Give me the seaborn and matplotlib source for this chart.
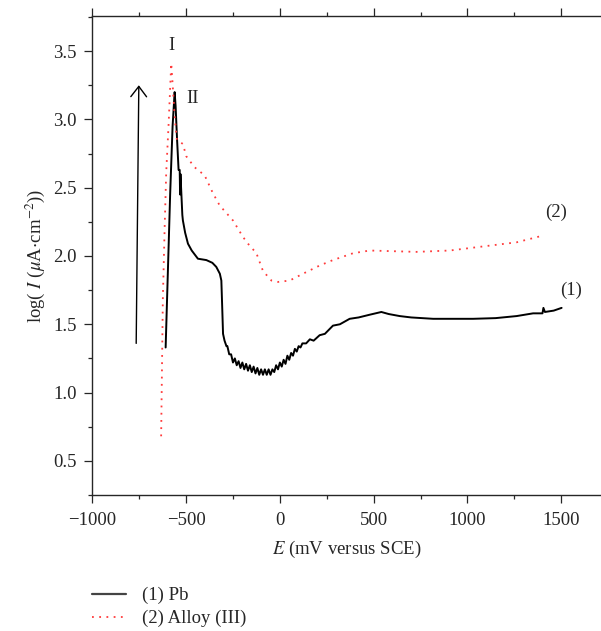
import matplotlib
matplotlib.use("Agg")
import matplotlib.pyplot as plt
import seaborn as sns
import pandas as pd
from matplotlib.ticker import MultipleLocator
from matplotlib.lines import Line2D

# ---- data ----
pb_E = [-609, -585, -572, -561, -556, -548, -540, -534, -532, -530, -520, -517, -505,
        -490, -470, -437, -392, -360, -339, -320, -312, -308, -303, -295, -285,
        -280, -270, -260, -250, -240, -230, -220, -210, -200, -190, -180, -170, -160,
        -150, -140, -130, -120, -110, -100, -90, -80, -70, -60, -50, -40, -30, -20,
        -10, 0, 10, 20, 30, 40, 50, 60, 70, 80, 90, 100, 110, 120, 140, 160, 180,
        212, 240, 283, 320, 372, 420, 479, 541, 580, 639, 700, 817, 900, 1030,
        1150, 1262, 1350, 1400, 1405, 1413, 1460, 1502]
pb_logI = [1.33, 2.45, 2.95, 3.20, 3.10, 2.85, 2.63, 2.63, 2.45, 2.60, 2.30, 2.26, 2.17,
           2.09, 2.04, 1.98, 1.97, 1.95, 1.92, 1.87, 1.82, 1.65, 1.43, 1.38, 1.34,
           1.34, 1.28, 1.28, 1.22, 1.25, 1.20, 1.23, 1.18, 1.22, 1.17, 1.21, 1.16, 1.20,
           1.15, 1.19, 1.14, 1.18, 1.13, 1.17, 1.13, 1.17, 1.13, 1.17, 1.13, 1.17, 1.15, 1.20,
           1.17, 1.22, 1.19, 1.24, 1.21, 1.27, 1.24, 1.29, 1.27, 1.32, 1.30, 1.34, 1.33, 1.36,
           1.36, 1.39, 1.38, 1.42, 1.43, 1.49, 1.50, 1.54, 1.55, 1.57, 1.59, 1.575, 1.56,
           1.55, 1.54, 1.54, 1.54, 1.545, 1.56, 1.58, 1.58, 1.62, 1.59, 1.60, 1.62]

alloy_E = [-633, -624, -615, -606, -593, -584, -579, -570, -561, -549, -517, -499, -455,
           -401, -357, -321, -250, -197, -170, -125, -90, -45, -10, 52, 123, 212, 283,
           390, 479, 728, 906, 1084, 1262, 1404]
alloy_logI = [0.68, 1.68, 2.17, 2.61, 2.97, 3.26, 3.41, 3.22, 3.02, 2.85, 2.82, 2.73, 2.65,
              2.59, 2.46, 2.37, 2.26, 2.14, 2.09, 2.02, 1.89, 1.82, 1.81, 1.82, 1.87, 1.93,
              1.97, 2.02, 2.04, 2.03, 2.04, 2.07, 2.10, 2.15]

series_names = ["(1) Pb", "(2) Alloy (III)"]
curve_labels = ["(1)", "(2)"]
peak_labels = ["I", "II"]

df_pb = pd.DataFrame({"E": pb_E, "logI": pb_logI})
df_alloy = pd.DataFrame({"E": alloy_E, "logI": alloy_logI})

# ---- style ----
sns.set_style("ticks")
plt.rcParams["font.family"] = ["Liberation Serif", "DejaVu Serif"]
plt.rcParams["mathtext.fontset"] = "stix"
FS = 13.5
plt.rcParams["font.size"] = FS

fig = plt.figure(figsize=(6.01, 6.31), dpi=100)
ax = fig.add_axes([92.3 / 601, 1 - 495 / 631, (601 - 92.3) / 601, (495 - 16) / 631])

sns.lineplot(data=df_pb, x="E", y="logI", ax=ax, sort=False, estimator=None,
             color="black", linewidth=1.4)
sns.lineplot(data=df_alloy, x="E", y="logI", ax=ax, sort=False, estimator=None,
             color="#ff3b3b", linewidth=1.3, linestyle=(0, (1, 3)))

ax.set_xlim(-1000, 1712)
ax.set_ylim(0.25, 3.757)
ax.xaxis.set_major_locator(MultipleLocator(500))
ax.xaxis.set_minor_locator(MultipleLocator(250))
ax.yaxis.set_major_locator(MultipleLocator(0.5))
ax.yaxis.set_minor_locator(MultipleLocator(0.25))
ax.yaxis.set_major_formatter(matplotlib.ticker.FormatStrFormatter("%.1f"))
ax.xaxis.set_major_formatter(matplotlib.ticker.FuncFormatter(
    lambda v, p: ("\u2212%d" % abs(v)) if v < 0 else "%d" % v))

ax.spines["right"].set_visible(False)
for s in ["top", "bottom", "left"]:
    ax.spines[s].set_linewidth(1.0)
ax.tick_params(axis="x", which="both", top=True, bottom=True, direction="out",
               width=0.9, labelsize=FS, pad=6)
ax.tick_params(axis="y", which="both", left=True, direction="out", width=0.9,
               labelsize=FS, pad=5)
ax.tick_params(which="major", length=6)
ax.tick_params(which="minor", length=3)

ax.set_xlabel(r"$E$ (mV versus SCE)", fontsize=FS, labelpad=7)
ax.set_ylabel(r"log( $I$ ($\mu$A$\cdot$cm$^{-2}$))", fontsize=FS, labelpad=5)

# arrow and annotations
ax.annotate("", xy=(-752, 3.25), xytext=(-766, 1.36),
            arrowprops=dict(arrowstyle="->,head_length=0.55,head_width=0.42",
                            color="black", lw=1.0, shrinkA=0, shrinkB=0))
ax.text(-576, 3.54, peak_labels[0], ha="center", va="center", fontsize=FS)
ax.text(-464, 3.15, peak_labels[1], ha="center", va="center", fontsize=FS)
ax.text(1555, 1.75, curve_labels[0], ha="center", va="center", fontsize=FS)
ax.text(1475, 2.32, curve_labels[1], ha="center", va="center", fontsize=FS)

handles = [Line2D([], [], color="#444444", lw=1.6),
           Line2D([], [], color="#ff3b3b", lw=1.3, linestyle=(0, (1, 3)))]
fig.legend(handles, series_names, loc="upper left",
           bbox_to_anchor=(92 / 601, 1 - 587 / 631), frameon=False,
           fontsize=FS, handlelength=1.8, handletextpad=0.85, labelspacing=0.3,
           borderaxespad=0, borderpad=0)

fig.savefig("out.png", dpi=100)
